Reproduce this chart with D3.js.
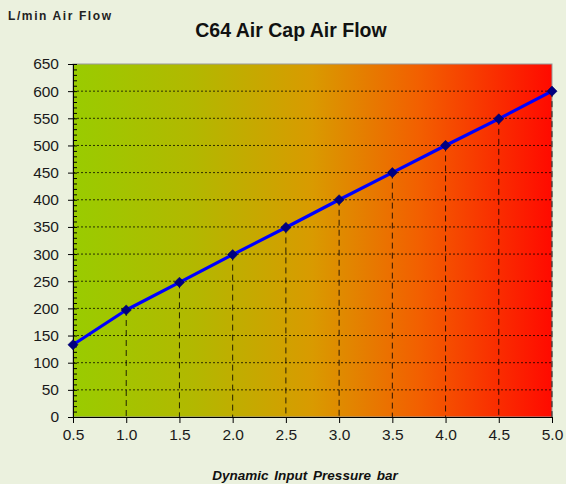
<!DOCTYPE html>
<html><head><meta charset="utf-8">
<script src="https://cdn.jsdelivr.net/npm/d3@7"></script>
<style>body{margin:0;background:#ebf1de;}svg{display:block;}</style>
</head><body>
<script>
const pressure = [0.5,1.0,1.5,2.0,2.5,3.0,3.5,4.0,4.5,5.0];
const airFlow = [133,197,248,299,349,400,450,500,549,600];
const yTicks = d3.range(0,651,50);
const xTicks = pressure;
const W=566,H=484;
const m={l:73,r:14,t:64,b:67};
const FONT="Arial, Liberation Sans, sans-serif";
const svg=d3.select("body").append("svg").attr("width",W).attr("height",H);
svg.append("rect").attr("width",W).attr("height",H).attr("fill","#ebf1de");
const x=d3.scaleLinear().domain([0.5,5.0]).range([m.l,W-m.r]);
const y=d3.scaleLinear().domain([0,650]).range([H-m.b,m.t]);
const defs=svg.append("defs");
const g=defs.append("linearGradient").attr("id","bg").attr("x1","0").attr("x2","1").attr("y1","0").attr("y2","0");
[[0,"#99cc00"],[0.25,"#b2b800"],[0.5,"#d99a00"],[0.72,"#f26000"],[1,"#ff0a00"]].forEach(s=>g.append("stop").attr("offset",s[0]).attr("stop-color",s[1]));
svg.append("rect").attr("x",x(0.5)).attr("y",y(650)).attr("width",x(5)-x(0.5)).attr("height",y(0)-y(650)).attr("fill","url(#bg)").attr("stroke","#999").attr("stroke-width",1);
// horizontal grid
svg.append("g").selectAll("line").data(yTicks.filter(d=>d>0&&d<650)).join("line")
 .attr("x1",x(0.5)).attr("x2",x(5)).attr("y1",d=>y(d)).attr("y2",d=>y(d))
 .attr("stroke","#000").attr("stroke-width",1).attr("stroke-dasharray","2,2").attr("opacity",0.75);
// drop lines
svg.append("g").selectAll("line").data(pressure.map((p,i)=>[p,airFlow[i]]).filter(d=>d[0]>0.5)).join("line")
 .attr("x1",d=>x(d[0])).attr("x2",d=>x(d[0])).attr("y1",d=>y(d[1])).attr("y2",y(0))
 .attr("stroke","#000").attr("stroke-width",1).attr("stroke-dasharray","6,4").attr("opacity",0.8);
// axes
const yAxis=svg.append("g").attr("transform",`translate(${x(0.5)},0)`)
 .call(d3.axisLeft(y).tickValues(yTicks).tickSize(5).tickPadding(9));
const yMinor=svg.append("g").attr("transform",`translate(${x(0.5)},0)`)
 .call(d3.axisLeft(y).tickValues(d3.range(0,651,10)).tickSize(-4).tickFormat(""));
yMinor.select(".domain").remove();
const xAxis=svg.append("g").attr("transform",`translate(0,${y(0)})`)
 .call(d3.axisBottom(x).tickValues(xTicks).tickSize(6).tickPadding(6).tickFormat(d3.format(".1f")));
[yAxis,xAxis,yMinor].forEach(a=>{a.selectAll("text").attr("font-family",FONT).attr("font-size",15.5).attr("fill","#1a1a1a");a.selectAll("line,path").attr("stroke","#000");});
// line
svg.append("path").datum(pressure.map((p,i)=>[p,airFlow[i]]))
 .attr("d",d3.line().x(d=>x(d[0])).y(d=>y(d[1])))
 .attr("fill","none").attr("stroke","#0000ff").attr("stroke-width",3.2).attr("stroke-linejoin","round");
svg.append("g").selectAll("path").data(pressure.map((p,i)=>[p,airFlow[i]])).join("path")
 .attr("transform",d=>`translate(${x(d[0])},${y(d[1])}) rotate(45)`)
 .attr("d",d3.symbol(d3.symbolSquare,52)())
 .attr("fill","#000080").attr("stroke","#000060").attr("stroke-width",0.5);
// texts
svg.append("text").attr("x",291).attr("y",37).attr("text-anchor","middle")
 .attr("font-family",FONT).attr("font-weight","bold").attr("font-size",19.5).attr("fill","#111").text("C64 Air Cap Air Flow");
svg.append("text").attr("x",8).attr("y",20)
 .attr("font-family",FONT).attr("font-weight","bold").attr("font-size",12).attr("letter-spacing",1.6).attr("fill","#222").text("L/min Air Flow");
svg.append("text").attr("x",305).attr("y",480).attr("text-anchor","middle")
 .attr("font-family",FONT).attr("font-weight","bold").attr("font-style","italic").attr("font-size",13.5).attr("word-spacing",2).attr("fill","#111").text("Dynamic Input Pressure bar");
</script>
</body></html>
